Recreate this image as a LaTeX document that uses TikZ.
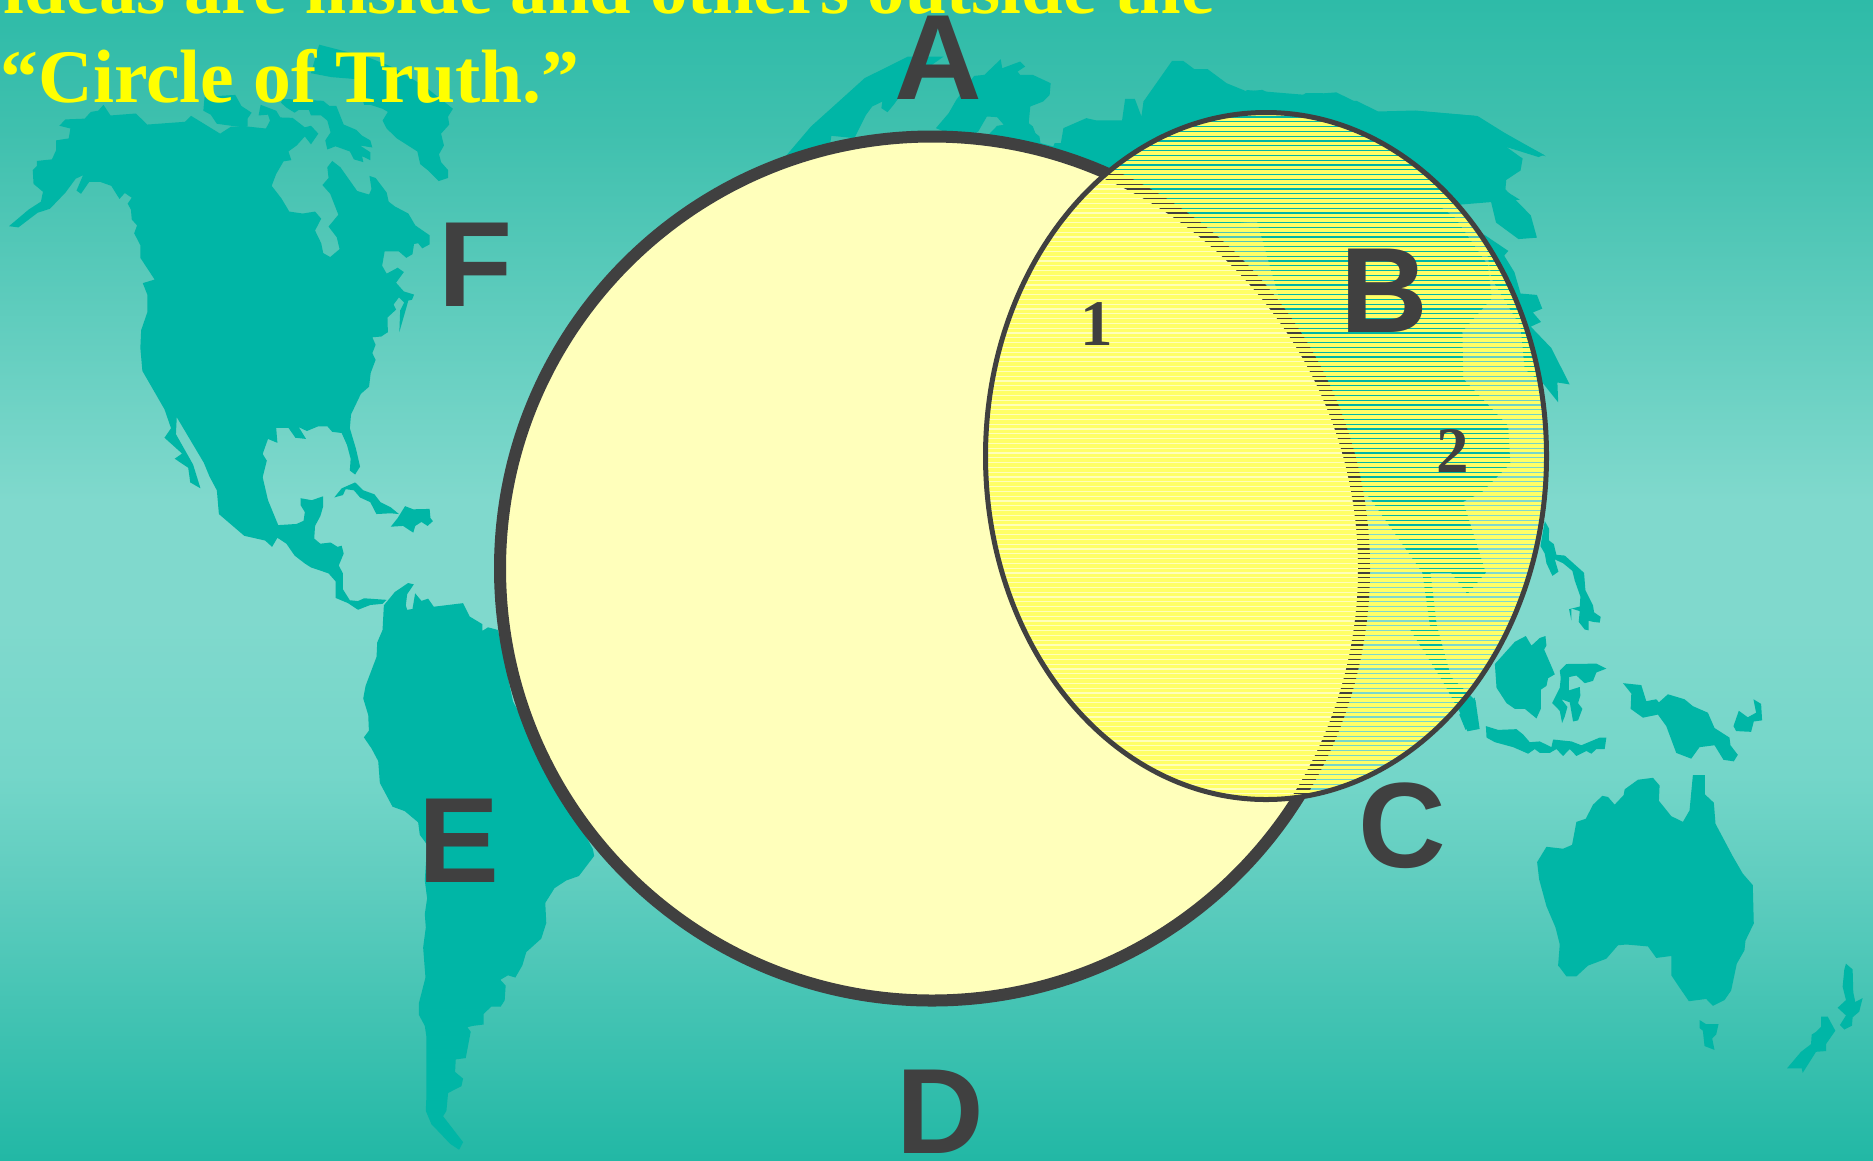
\documentclass[tikz,border=0pt]{standalone}
\usepackage{fontspec}
\setmainfont{Liberation Serif}
\newfontfamily\labelfont{Liberation Sans}
\definecolor{seatop}{HTML}{2EBBA8}
\definecolor{seaupper}{HTML}{3FC0AE}
\definecolor{seamid}{HTML}{80D9CD}
\definecolor{sealow}{HTML}{74D6C9}
\definecolor{sealower}{HTML}{5FCDBF}
\definecolor{seabot}{HTML}{22B8A5}
\definecolor{landgreen}{HTML}{00B6A6}
\definecolor{darkline}{HTML}{404040}
\definecolor{paleyellow}{HTML}{FFFFBB}
\definecolor{stripeyellow}{HTML}{FFFF66}
\definecolor{titleyellow}{HTML}{FFFF00}
\pgfdeclareverticalshading{seashade}{100bp}{color(0bp)=(seabot); color(25bp)=(seabot);
  color(36.9bp)=(sealower); color(41.6bp)=(sealow); color(48.3bp)=(seamid);
  color(53.4bp)=(seamid); color(69.4bp)=(seaupper); color(75bp)=(seatop); color(100bp)=(seatop)}

\begin{document}
\begin{tikzpicture}[x=0.01cm, y=-0.01cm,
        land/.style={fill=landgreen},
        bigletter/.style={font=\labelfont\bfseries\fontsize{34.5}{34.5}\selectfont,
          text=darkline, inner sep=0pt, anchor=base},
        smallnum/.style={font=\bfseries\fontsize{18.5}{18.5}\selectfont,
          text=darkline, inner sep=0pt, anchor=base},
        titleline/.style={text=titleyellow, inner sep=0pt, anchor=base west}]
      % Picture is in pixels of the reference: x \in [0, 1873], y \in [0, 1160].
      \useasboundingbox (0,0) rectangle (1873,1160);

      % Sea
      \shade[shading=seashade] (0,0) rectangle (1873,1160);

      % North America and its islands
      \begin{scope}[x=0.004082cm, y=-0.003953cm]
        \fill[land] (22,572) -- (70,530) -- (100,510) -- (105,485) -- (82,465) -- (80,430) -- (90,420) -- (90,407) -- (127,403) -- (137,380) -- (137,355) -- (168,350) -- (172,325) -- (145,318) -- (160,302) -- (207,300) -- (222,283) -- (240,280) -- (253,265) -- (270,292) -- (332,287) -- (360,315) -- (452,308) -- (467,293) -- (538,338) -- (565,320) -- (605,320) -- (650,325) -- (660,305) -- (655,290) -- (632,292) -- (637,265) -- (675,280) -- (685,297) -- (715,298) -- (745,322) -- (760,318) -- (778,338) -- (760,365) -- (745,345) -- (725,368) -- (705,383) -- (712,405) -- (693,408) -- (675,440) -- (664,470) -- (688,502) -- (707,535) -- (740,540) -- (770,535) -- (785,553) -- (770,583) -- (785,615) -- (790,640) -- (807,650) -- (830,630) -- (823,600) -- (803,573) -- (827,543) -- (807,490) -- (788,468) -- (803,450) -- (800,423) -- (812,407) -- (832,423) -- (873,483) -- (902,492) -- (908,478) -- (903,445) -- (918,450) -- (945,487) -- (950,510) -- (965,522) -- (998,540) -- (1015,570) -- (1050,595) -- (1050,618) -- (1032,628) -- (1022,615) -- (1012,617) -- (1008,643) -- (993,652) -- (975,636) -- (940,636) -- (934,672) -- (945,692) -- (972,677) -- (987,688) -- (968,715) -- (987,737) -- (1012,745) -- (1007,758) -- (998,760) -- (976,840) -- (978,785) -- (988,765) -- (975,752) -- (962,770) -- (968,783) -- (947,803) -- (948,840) -- (932,851) -- (910,853) -- (918,872) -- (910,893) -- (918,910) -- (906,943) -- (902,978) -- (882,996) -- (858,1048) -- (855,1083) -- (870,1135) -- (880,1180) -- (868,1200) -- (855,1190) -- (857,1160) -- (848,1125) -- (835,1095) -- (812,1092) -- (800,1078) -- (778,1078) -- (750,1090) -- (730,1080) -- (748,1110) -- (722,1107) -- (705,1082) -- (675,1082) -- (678,1120) -- (655,1110) -- (642,1148) -- (652,1165) -- (642,1207) -- (655,1265) -- (680,1328) -- (725,1325) -- (742,1317) -- (745,1295) -- (735,1278) -- (735,1260) -- (762,1265) -- (790,1255) -- (790,1280) -- (783,1305) -- (770,1330) -- (768,1362) -- (783,1375) -- (808,1372) -- (825,1383) -- (835,1380) -- (840,1400) -- (828,1430) -- (838,1450) -- (838,1490) -- (855,1518) -- (875,1520) -- (890,1513) -- (945,1517) -- (935,1527) -- (905,1530) -- (875,1542) -- (850,1525) -- (820,1512) -- (820,1470) -- (803,1450) -- (760,1435) -- (745,1425) -- (720,1405) -- (700,1375) -- (678,1360) -- (665,1383) -- (648,1367) -- (597,1355) -- (535,1300) -- (530,1240) -- (512,1205) -- (498,1170) -- (432,1055) -- (430,1098) -- (472,1175) -- (490,1235) -- (465,1220) -- (460,1183) -- (427,1160) -- (445,1147) -- (402,1107) -- (418,1083) -- (402,1035) -- (348,938) -- (343,880) -- (345,835) -- (360,790) -- (360,745) -- (349,716) -- (378,707) -- (343,652) -- (343,620) -- (328,590) -- (335,570) -- (322,555) -- (320,530) -- (312,515) -- (322,500) -- (305,488) -- (292,503) -- (272,470) -- (245,460) -- (218,460) -- (198,490) -- (187,482) -- (203,443) -- (185,452) -- (160,487) -- (122,528) -- (92,538) -- (45,575) -- cycle;
        \fill[land] (497,280) -- (500,245) -- (575,240) -- (590,268) -- (615,285) -- (605,300) -- (605,320) -- (595,322) -- (565,318) -- (530,313) -- (515,290) -- cycle;
        \fill[land] (687,260) -- (690,250) -- (790,255) -- (805,268) -- (822,268) -- (840,315) -- (870,328) -- (885,343) -- (905,355) -- (910,373) -- (880,368) -- (905,385) -- (905,405) -- (885,395) -- (888,410) -- (865,403) -- (855,383) -- (820,370) -- (800,378) -- (795,355) -- (808,335) -- (800,305) -- (785,292) -- (760,292) -- (755,278) -- (730,278) -- (720,285) -- (700,272) -- cycle;
        \fill[land] (780,113) -- (900,145) -- (960,170) -- (1040,220) -- (1107,275) -- (1095,295) -- (1098,315) -- (1078,338) -- (1085,368) -- (1073,390) -- (1078,410) -- (1095,430) -- (1095,450) -- (1072,458) -- (1045,430) -- (1027,415) -- (1020,383) -- (970,350) -- (945,325) -- (935,305) -- (948,283) -- (935,275) -- (920,270) -- (905,265) -- (890,265) -- (870,200) -- (810,195) -- (760,185) -- cycle;
        \fill[land] (817,1258) -- (835,1235) -- (868,1220) -- (888,1240) -- (915,1250) -- (930,1270) -- (955,1283) -- (975,1300) -- (955,1298) -- (920,1300) -- (905,1270) -- (880,1258) -- (865,1240) -- (845,1237) -- (838,1252) -- cycle;
        \fill[land] (955,1332) -- (972,1310) -- (990,1280) -- (1010,1288) -- (1050,1287) -- (1052,1310) -- (1058,1318) -- (1045,1330) -- (1030,1320) -- (1015,1330) -- (1010,1347) -- (985,1330) -- cycle;
      \end{scope}

      % South America
      \begin{scope}[shift={(300,460)}, x=0.003333cm, y=-0.004464cm]
        \fill[land] (248,380) -- (252,325) -- (285,295) -- (325,275) -- (342,278) -- (322,300) -- (318,325) -- (322,335) -- (338,333) -- (346,298) -- (365,315) -- (385,310) -- (402,328) -- (490,320) -- (510,350) -- (548,367) -- (548,382) -- (565,374) -- (595,380) -- (640,540) -- (880,870) -- (884,885) -- (838,930) -- (800,940) -- (765,957) -- (737,990) -- (740,1035) -- (725,1070) -- (680,1100) -- (668,1130) -- (647,1157) -- (625,1152) -- (602,1162) -- (618,1175) -- (615,1208) -- (603,1222) -- (575,1222) -- (552,1238) -- (552,1262) -- (520,1265) -- (503,1268) -- (513,1278) -- (498,1337) -- (468,1340) -- (466,1368) -- (490,1383) -- (485,1400) -- (445,1415) -- (440,1455) -- (430,1467) -- (490,1525) -- (478,1542) -- (450,1528) -- (425,1508) -- (395,1485) -- (378,1455) -- (380,1420) -- (380,1290) -- (375,1265) -- (357,1240) -- (357,1215) -- (377,1157) -- (370,1090) -- (378,1045) -- (375,1015) -- (382,980) -- (375,940) -- (382,860) -- (360,838) -- (355,810) -- (315,785) -- (278,775) -- (240,722) -- (235,673) -- (215,645) -- (192,620) -- (207,605) -- (205,570) -- (190,533) -- (197,505) -- (230,440) -- (232,408) -- cycle;
      \end{scope}

      % Northern coast of Europe and Asia
      \begin{scope}[shift={(760,0)}, x=0.005102cm, y=-0.003333cm]
        \fill[land] (50,470) -- (100,380) -- (140,325) -- (205,235) -- (290,170) -- (360,170) -- (300,235) -- (262,315) -- (250,337) -- (238,325) -- (240,305) -- (220,320) -- (208,345) -- (185,415) -- (140,408) -- (120,600) -- cycle;
        \fill[land] (345,385) -- (370,340) -- (385,300) -- (420,228) -- (440,225) -- (472,178) -- (475,205) -- (510,185) -- (520,200) -- (505,215) -- (510,225) -- (535,225) -- (570,250) -- (568,285) -- (555,305) -- (530,320) -- (527,370) -- (535,380) -- (540,400) -- (548,410) -- (550,430) -- (575,440) -- (578,430) -- (590,430) -- (595,385) -- (640,355) -- (660,362) -- (710,362) -- (716,297) -- (735,297) -- (748,350) -- (752,305) -- (808,183) -- (830,183) -- (852,208) -- (878,208) -- (915,250) -- (955,275) -- (985,270) -- (1020,297) -- (1052,298) -- (1070,280) -- (1103,280) -- (1125,303) -- (1170,303) -- (1212,335) -- (1285,332) -- (1402,348) -- (1458,400) -- (1537,465) -- (1527,472) -- (1460,440) -- (1475,465) -- (1495,475) -- (1487,510) -- (1460,540) -- (1458,570) -- (1490,600) -- (700,700) -- (600,640) -- (420,420) -- (450,402) -- (465,378) -- (478,375) -- (465,352) -- (445,350) -- (428,395) -- (400,420) -- cycle;
      \end{scope}

      % East Asia, partly seen through the stripes
      \begin{scope}[shift={(960,90)}, x=0.004082cm, y=-0.004726cm]
        \fill[land] (700,0) -- (840,10) -- (920,5) -- (1025,50) -- (1120,45) -- (1265,55) -- (1330,90) -- (1432,140) -- (1335,120) -- (1375,145) -- (1370,170) -- (1335,190) -- (1333,210) -- (1395,265) -- (1410,312) -- (1365,315) -- (1310,280) -- (1285,190) -- (1250,178) -- (1240,185) -- (1250,210) -- (1200,210) -- (1140,225) -- (1210,270) -- (1290,370) -- (1300,440) -- (1228,510) -- (1230,610) -- (1340,710) -- (1345,790) -- (1275,850) -- (1230,870) -- (1285,1020) -- (1240,1065) -- (1200,1020) -- (1150,1020) -- (1165,1130) -- (1200,1240) -- (1260,1290) -- (1270,1350) -- (1240,1355) -- (1225,1320) -- (1180,1250) -- (1100,1140) -- (1150,1140) -- (1130,1020) -- (1000,860) -- (900,800) -- (700,200) -- cycle;
        \fill[land] (1280,305) -- (1340,340) -- (1330,350) -- (1355,385) -- (1370,430) -- (1410,433) -- (1423,462) -- (1400,470) -- (1420,490) -- (1395,500) -- (1445,545) -- (1490,622) -- (1460,618) -- (1462,660) -- (1425,620) -- (1380,590) -- (1370,500) -- (1300,400) -- cycle;
      \end{scope}

      % Islands and Australia
      \begin{scope}[shift={(1400,500)}, x=0.003333cm, y=-0.003827cm]
        \fill[land] (435,55) -- (448,75) -- (447,105) -- (462,115) -- (470,143) -- (495,145) -- (553,190) -- (557,235) -- (580,275) -- (583,293) -- (603,305) -- (600,320) -- (580,318) -- (567,315) -- (567,340) -- (555,338) -- (537,318) -- (540,290) -- (515,283) -- (515,315) -- (508,285) -- (540,278) -- (542,252) -- (525,210) -- (518,185) -- (490,165) -- (465,155) -- (476,187) -- (458,198) -- (440,165) -- (435,140) -- (422,120) -- cycle;
        \fill[land] (285,428) -- (345,370) -- (378,355) -- (395,380) -- (420,360) -- (437,355) -- (440,380) -- (433,390) -- (458,440) -- (465,455) -- (445,465) -- (440,485) -- (423,495) -- (423,545) -- (410,570) -- (375,545) -- (345,545) -- (320,530) -- (290,490) -- cycle;
        \fill[land] (480,445) -- (500,428) -- (590,427) -- (620,440) -- (590,450) -- (580,472) -- (555,478) -- (530,458) -- (508,462) -- (507,497) -- (540,488) -- (542,510) -- (535,530) -- (548,545) -- (535,575) -- (520,578) -- (510,528) -- (485,520) -- (503,540) -- (495,565) -- (487,582) -- (480,550) -- (457,530) -- (480,490) -- (483,465) -- cycle;
        \fill[land] (178,560) -- (225,515) -- (225,575) -- (235,590) -- (220,600) -- (215,585) -- (197,600) -- cycle;
        \fill[land] (258,590) -- (295,600) -- (350,598) -- (370,612) -- (390,632) -- (420,630) -- (455,645) -- (460,625) -- (515,630) -- (545,640) -- (600,620) -- (620,620) -- (615,650) -- (590,650) -- (575,662) -- (560,655) -- (530,668) -- (510,650) -- (490,668) -- (470,650) -- (450,660) -- (420,660) -- (405,650) -- (385,662) -- (340,645) -- (285,632) -- (260,620) -- cycle;
        \fill[land] (670,478) -- (725,483) -- (740,525) -- (770,520) -- (778,528) -- (805,507) -- (855,520) -- (880,538) -- (925,555) -- (945,595) -- (990,620) -- (993,640) -- (1015,665) -- (1003,682) -- (972,678) -- (945,640) -- (900,645) -- (875,675) -- (830,660) -- (800,590) -- (775,560) -- (730,568) -- (693,545) -- (695,505) -- cycle;
        \fill[land] (1002,590) -- (1018,550) -- (1045,567) -- (1070,555) -- (1062,520) -- (1085,532) -- (1088,575) -- (1063,578) -- (1055,605) -- (1010,603) -- cycle;
        \fill[land] (412,945) -- (440,905) -- (490,910) -- (517,900) -- (530,840) -- (558,832) -- (580,795) -- (608,772) -- (625,775) -- (645,795) -- (672,770) -- (675,755) -- (715,730) -- (760,725) -- (780,745) -- (778,785) -- (815,825) -- (850,840) -- (870,810) -- (880,718) -- (916,718) -- (916,768) -- (943,790) -- (948,845) -- (1000,930) -- (1030,975) -- (1060,1005) -- (1063,1105) -- (1038,1150) -- (1035,1175) -- (1012,1210) -- (995,1280) -- (975,1305) -- (940,1320) -- (920,1302) -- (868,1308) -- (838,1270) -- (815,1240) -- (815,1190) -- (770,1195) -- (745,1165) -- (680,1160) -- (655,1162) -- (620,1197) -- (565,1215) -- (530,1243) -- (500,1243) -- (480,1220) -- (475,1215) -- (480,1160) -- (467,1115) -- (440,1060) -- (418,990) -- cycle;
        \fill[land] (900,1357) -- (920,1368) -- (957,1368) -- (950,1395) -- (938,1405) -- (945,1435) -- (915,1425) -- (910,1385) -- (900,1378) -- cycle;
        \fill[land] (1340,1210) -- (1360,1225) -- (1362,1285) -- (1368,1310) -- (1390,1300) -- (1380,1335) -- (1360,1350) -- (1358,1372) -- (1335,1382) -- (1322,1370) -- (1340,1345) -- (1315,1325) -- (1340,1305) -- (1330,1270) -- (1335,1225) -- cycle;
        \fill[land] (1265,1348) -- (1285,1348) -- (1308,1385) -- (1280,1420) -- (1280,1438) -- (1250,1440) -- (1210,1495) -- (1207,1483) -- (1163,1483) -- (1205,1440) -- (1235,1420) -- (1237,1395) -- (1250,1388) -- (1265,1375) -- cycle;
      \end{scope}

      % Circle of truth
      \draw[darkline, line width=0.12cm, fill=paleyellow]
        (932,568.5) circle [radius=432];

      % Striped oval: thin gaps let what lies below show through
      \begin{scope}
        \clip (1266,456) ellipse [x radius=281, y radius=344];
        \foreach \ypos in {108,112.8,...,806} {
          \fill[stripeyellow] (980,\ypos) rectangle (1552,\ypos+3.6);
        }
      \end{scope}
      \draw[darkline, line width=0.05cm]
        (1266,456) ellipse [x radius=280.5, y radius=343.5];

      % Title lines, the first one cut by the top edge
      \node[titleline, font=\bfseries\fontsize{21.25}{21.25}\selectfont] (titleone)
        at (3,13) {ideas are inside and others outside the};
      \node[titleline, font=\bfseries\fontsize{21.5}{21.5}\selectfont] (titletwo)
        at (0,102) {“Circle of Truth.”};

      % Letters round the circle
      \node[bigletter] (letterA) at (938,99) {A};
      \node[bigletter] (letterB) at (1384,332) {B};
      \node[bigletter] (letterC) at (1402,867) {C};
      \node[bigletter] (letterD) at (940,1153) {D};
      \node[bigletter] (letterE) at (459,882) {E};
      \node[bigletter] (letterF) at (476,306) {F};

      % Numbers inside the oval
      \node[smallnum] (numone) at (1097,345) {1};
      \node[smallnum] (numtwo) at (1453,472) {2};
    \end{tikzpicture}
\end{document}
